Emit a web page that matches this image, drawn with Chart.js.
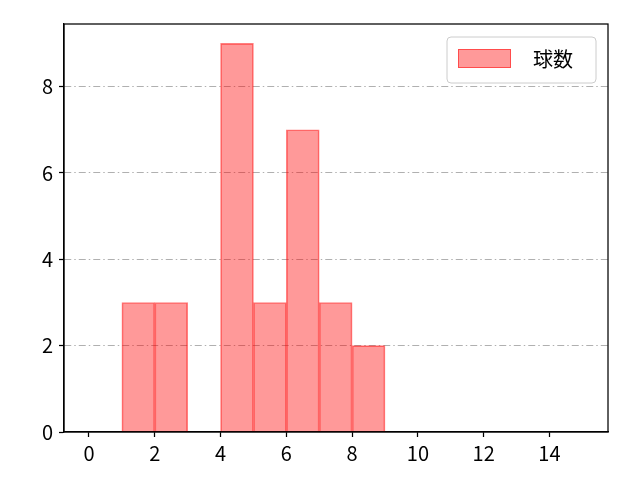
<!DOCTYPE html>
<html>
<head>
<meta charset="utf-8">
<script src="https://cdn.jsdelivr.net/npm/chart.js@4"></script>
<style>
  body { margin: 0; background: #fff; }
  #wrap { width: 640px; height: 480px; }
</style>
</head>
<body>
<div id="wrap"><canvas id="pitch-chart"></canvas></div>
<script>
// histogram bins (centre of each 1-wide bin) and counts
const binCenters = [1.5, 2.5, 3.5, 4.5, 5.5, 6.5, 7.5, 8.5];
const counts = [3, 3, 0, 9, 3, 7, 3, 2];
const xTicks = [0, 2, 4, 6, 8, 10, 12, 14];
const yTicks = [0, 2, 4, 6, 8];
const seriesLabel = '球数';

const FONT = '"Noto Sans CJK JP", "DejaVu Sans", sans-serif';
const fill = 'rgba(255, 0, 0, 0.4)';
const edge = 'rgba(255, 0, 0, 0.5)';

// top/right spines and the in-plot legend, like matplotlib
const framePlugin = {
    id: 'frame',
    afterDraw(chart) {
        const { ctx, chartArea: a } = chart;
        ctx.save();
        ctx.setLineDash([]);
        ctx.strokeStyle = '#000';
        ctx.lineWidth = 1.25;
        ctx.strokeRect(a.left, a.top, a.right - a.left, a.bottom - a.top);

        // legend box
        const bx = 447, by = 37, bw = 149, bh = 46;
        ctx.beginPath();
        ctx.roundRect(bx, by, bw, bh, 4);
        ctx.fillStyle = 'rgba(255,255,255,0.8)';
        ctx.fill();
        ctx.strokeStyle = '#cccccc';
        ctx.lineWidth = 1;
        ctx.stroke();

        ctx.fillStyle = fill;
        ctx.fillRect(458, 49, 53, 19);
        ctx.strokeStyle = edge;
        ctx.strokeRect(458.5, 49.5, 52, 18);

        ctx.fillStyle = '#000';
        ctx.font = '20px ' + FONT;
        ctx.textBaseline = 'middle';
        ctx.fillText(seriesLabel, 533, 59);
        ctx.restore();
    }
};

const ctx = document.getElementById('pitch-chart').getContext('2d');
const chart = new Chart(ctx, {
    type: 'bar',
    data: {
        datasets: [{
            label: seriesLabel,
            data: binCenters.map((x, i) => ({ x: x, y: counts[i] })),
            backgroundColor: fill,
            borderColor: edge,
            borderWidth: 1,
            borderSkipped: 'start',
            barPercentage: 1.0,
            categoryPercentage: 1.0,
        }]
    },
    options: {
        responsive: true,
        maintainAspectRatio: false,
        animation: false,
        devicePixelRatio: 1,
        layout: { padding: { left: 0, top: 24, right: 32, bottom: 0 } },
        scales: {
            x: {
                type: 'linear',
                offset: false,
                min: -0.76,
                max: 15.78,
                afterBuildTicks: scale => { scale.ticks = xTicks.map(v => ({ value: v })); },
                afterFit: scale => { scale.height = 48; },
                grid: {
                    offset: false,
                    drawOnChartArea: false,
                    drawTicks: true,
                    tickLength: 5,
                    tickColor: '#000',
                    tickWidth: 1.25,
                },
                border: { color: '#000', width: 1.25 },
                ticks: {
                    color: '#000',
                    padding: 4,
                    font: { family: FONT, size: 20 },
                },
            },
            y: {
                min: 0,
                max: 9.45,
                afterBuildTicks: scale => { scale.ticks = yTicks.map(v => ({ value: v })); },
                afterFit: scale => { scale.width = 64; },
                grid: {
                    color: c => (c.tick && c.tick.value === 0) ? 'rgba(0,0,0,0)' : '#b0b0b0',
                    lineWidth: 1,
                    drawTicks: true,
                    tickLength: 5,
                    tickColor: '#000',
                    tickWidth: 1.25,
                    tickBorderDash: [],
                },
                border: { color: '#000', width: 1.25, dash: [7, 3, 1.5, 3] },
                ticks: {
                    color: '#000',
                    padding: 6,
                    font: { family: FONT, size: 20 },
                },
            }
        },
        plugins: {
            legend: { display: false },
            tooltip: { enabled: false },
        }
    },
    plugins: [framePlugin]
});
</script>
</body>
</html>
